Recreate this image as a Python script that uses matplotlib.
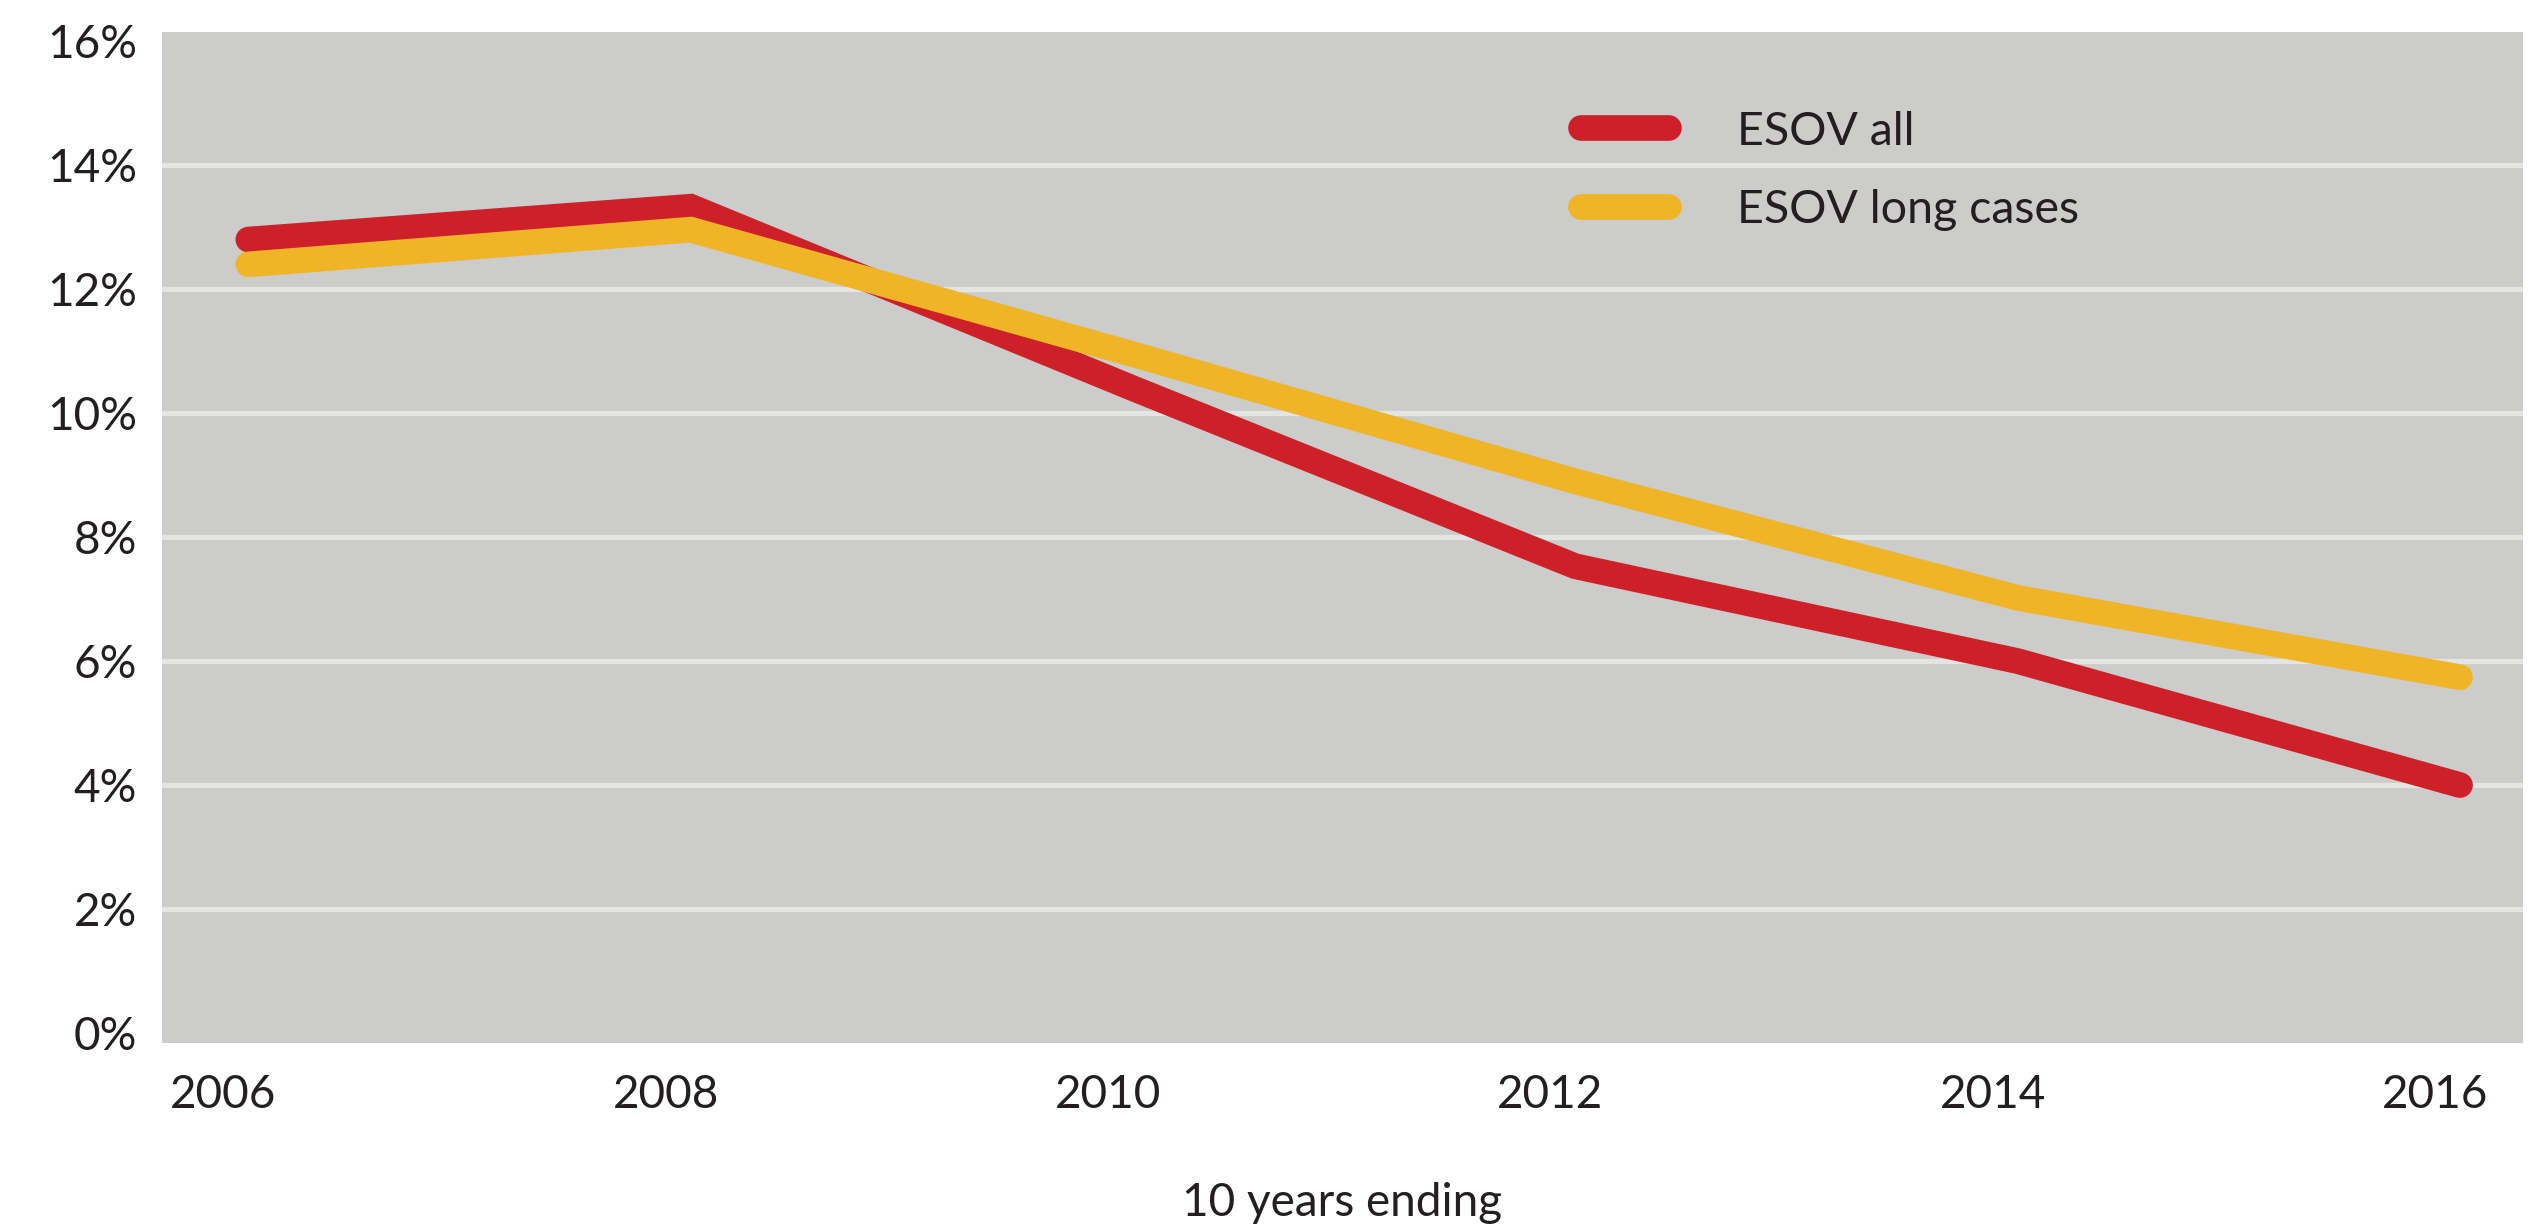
import matplotlib
matplotlib.use('Agg')
import matplotlib.pyplot as plt
import matplotlib.transforms as mtransforms
from matplotlib.ticker import FuncFormatter

years = [2006, 2008, 2010, 2012, 2014, 2016]
esov_all = [12.8, 13.33, 10.4, 7.53, 6.0, 4.0]
esov_long = [12.4, 12.96, 10.95, 8.9, 7.02, 5.74]
yticks = [0, 2, 4, 6, 8, 10, 12, 14, 16]

red = '#CE2029'
yellow = '#EFB526'
bg = '#CCCCCA'
grid = '#E4E4E2'
txt = '#231F20'

plt.rcParams['font.family'] = ['Lato', 'DejaVu Sans']

fig = plt.figure(figsize=(25.36, 12.27), dpi=100)
ax = fig.add_axes([0.0639, 0.15, 0.931, 0.824])
ax.set_facecolor(bg)

ax.plot(years, esov_all, color=red, lw=18.5, solid_capstyle='round',
        solid_joinstyle='miter', label='ESOV all', zorder=3)
ax.plot(years, esov_long, color=yellow, lw=18.5, solid_capstyle='round',
        solid_joinstyle='miter', label='ESOV long cases', zorder=4)

ax.set_xlim(2005.61, 2016.285)
ax.set_ylim(-0.16, 16.15)
ax.set_yticks(yticks)
ax.yaxis.set_major_formatter(FuncFormatter(lambda v, p: f'{int(v)}%'))
ax.set_xticks(years)
ax.set_xticklabels([str(y) for y in years])
ax.grid(axis='y', color=grid, lw=3.8, zorder=1)
ax.set_axisbelow(True)
# no visible line at 0% and 16%
gl = ax.yaxis.get_gridlines()
gl[0].set_visible(False)
gl[-1].set_visible(False)
for s in ax.spines.values():
    s.set_visible(False)
ax.tick_params(axis='both', length=0, labelsize=33, colors=txt)
ax.tick_params(axis='x', pad=22)
ax.tick_params(axis='y', pad=18)

# year labels sit a little left of the data points
shift = mtransforms.ScaledTranslation(-0.25, 0, fig.dpi_scale_trans)
for lab in ax.get_xticklabels():
    lab.set_transform(lab.get_transform() + shift)

ax.set_xlabel('10 years ending', fontsize=33, color=txt, labelpad=48)

leg = ax.legend(loc='upper left', bbox_to_anchor=(0.601, 0.922), frameon=False,
                fontsize=33.5, handlelength=1.9, handletextpad=1.45,
                labelspacing=0.78, borderpad=0, borderaxespad=0)
for t in leg.get_texts():
    t.set_color(txt)

fig.savefig('out.png', dpi=100)
